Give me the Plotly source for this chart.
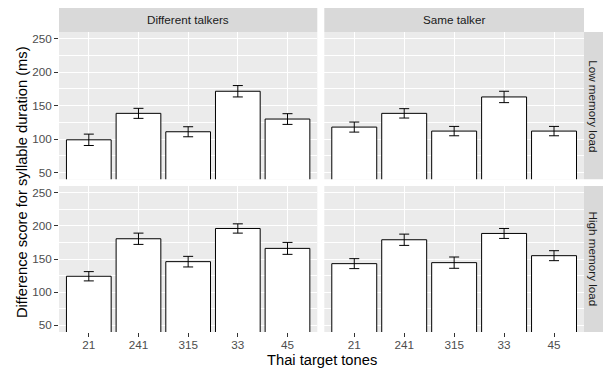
import plotly.graph_objects as go

tones = ["21", "241", "315", "33", "45"]
talkers = ["Different talkers", "Same talker"]
loads = ["Low memory load", "High memory load"]

# mean difference scores (ms) and error half-widths
low_diff = [99, 138.5, 111, 171.5, 130]
low_diff_err = [8.5, 7.5, 7.5, 8.5, 8]
low_same = [118, 138.5, 112, 163, 112]
low_same_err = [7.5, 7, 7, 8.5, 7]
high_diff = [124, 180.5, 146, 196, 166]
high_diff_err = [7, 8.5, 8, 7, 9]
high_same = [143, 179, 144.5, 188.5, 155]
high_same_err = [7.5, 8.5, 8.5, 7.5, 7.5]

y_ticks = [50, 100, 150, 200, 250]

W, H = 603, 370
ML, MR, MT, MB = 59, 19, 32, 38
PW, PH = W - ML - MR, H - MT - MB

x_dom = [[0, 258.3 / PW], [265.3 / PW, 1]]
y_dom = {"top": [(332 - 179.3) / PH, 1], "bottom": [0, (332 - 186) / PH]}

fig = go.Figure()

panels = [
    (low_diff, low_diff_err, 0, "top", "x", "y"),
    (low_same, low_same_err, 1, "top", "x2", "y2"),
    (high_diff, high_diff_err, 0, "bottom", "x3", "y3"),
    (high_same, high_same_err, 1, "bottom", "x4", "y4"),
]

FONT = "Liberation Sans, Arial, sans-serif"
tickfont = dict(family=FONT, size=11.7, color="#4D4D4D")

for vals, errs, col, row, xa, ya in panels:
    fig.add_trace(go.Bar(
        x=tones, y=vals, xaxis=xa, yaxis=ya, width=0.9,
        marker=dict(color="white", line=dict(color="black", width=1)),
        error_y=dict(type="data", array=errs, visible=True, color="black",
                     thickness=1, width=5),
        showlegend=False, hoverinfo="x+y",
    ))
    n = xa[1:] or ""
    xkey = "xaxis" + n
    ykey = "yaxis" + n
    show_x = row == "bottom"
    show_y = col == 0
    fig.update_layout(**{
        xkey: dict(
            domain=x_dom[col], anchor=ya, type="category",
            categoryorder="array", categoryarray=tones,
            range=[-0.6, 4.6], showgrid=True, gridcolor="white", gridwidth=1.07,
            zeroline=False, showline=False, automargin=False,
            ticks="outside" if show_x else "", ticklen=4, tickcolor="#333333",
            tickwidth=1, showticklabels=show_x, tickfont=tickfont,
            ticklabelstandoff=-2,
        ),
        ykey: dict(
            domain=y_dom[row], anchor=xa, range=[40, 260],
            tickvals=y_ticks, showgrid=True, gridcolor="white", gridwidth=1.07,
            minor=dict(tick0=25, dtick=50, showgrid=True, gridcolor="white",
                       gridwidth=0.53, ticks=""),
            zeroline=False, showline=False, automargin=False,
            ticks="outside" if show_y else "", ticklen=4, tickcolor="#333333",
            tickwidth=1, showticklabels=show_y, tickfont=tickfont,
        ),
    })

shapes = []
annotations = []
# panel backgrounds
for col in range(2):
    for row in ["top", "bottom"]:
        shapes.append(dict(type="rect", xref="paper", yref="paper", layer="below",
                           x0=x_dom[col][0], x1=x_dom[col][1],
                           y0=y_dom[row][0], y1=y_dom[row][1],
                           fillcolor="#EBEBEB", line=dict(width=0)))
# top strips
for col, lab in enumerate(talkers):
    shapes.append(dict(type="rect", xref="paper", yref="paper",
                       x0=x_dom[col][0], x1=x_dom[col][1],
                       y0=1, y1=1 + 24 / PH, fillcolor="#D9D9D9", line=dict(width=0)))
    annotations.append(dict(xref="paper", yref="paper",
                            x=(x_dom[col][0] + x_dom[col][1]) / 2, y=1 + 12 / PH,
                            text=lab, showarrow=False, xanchor="center", yanchor="middle",
                            font=dict(family=FONT, size=11.7, color="#1A1A1A")))
# right strips
for row, lab in zip(["top", "bottom"], loads):
    shapes.append(dict(type="rect", xref="paper", yref="paper",
                       x0=1, x1=1 + 19 / PW, y0=y_dom[row][0], y1=y_dom[row][1],
                       fillcolor="#D9D9D9", line=dict(width=0)))
    annotations.append(dict(xref="paper", yref="paper",
                            x=1 + 9.5 / PW, y=(y_dom[row][0] + y_dom[row][1]) / 2,
                            text=lab, showarrow=False, textangle=90,
                            xanchor="center", yanchor="middle",
                            font=dict(family=FONT, size=11.7, color="#1A1A1A")))
# axis titles
annotations.append(dict(xref="paper", yref="paper", x=0.5, y=(332 - 360) / PH,
                        text="Thai target tones", showarrow=False,
                        xanchor="center", yanchor="middle",
                        font=dict(family=FONT, size=14.7, color="black")))
annotations.append(dict(xref="paper", yref="paper", x=(22 - ML) / PW, y=0.5,
                        text="Difference score for syllable duration (ms)",
                        showarrow=False, textangle=-90,
                        xanchor="center", yanchor="middle",
                        font=dict(family=FONT, size=14.7, color="black")))

fig.update_layout(
    width=W, height=H,
    margin=dict(l=ML, r=MR, t=MT, b=MB, pad=0, autoexpand=False),
    paper_bgcolor="white", plot_bgcolor="rgba(0,0,0,0)",
    shapes=shapes, annotations=annotations,
    bargap=0.1,
)

fig.write_html(
    "out.html",
    config={"displayModeBar": False},
    post_script="document.body.style.margin='0px';document.body.style.overflow='hidden';",
)
